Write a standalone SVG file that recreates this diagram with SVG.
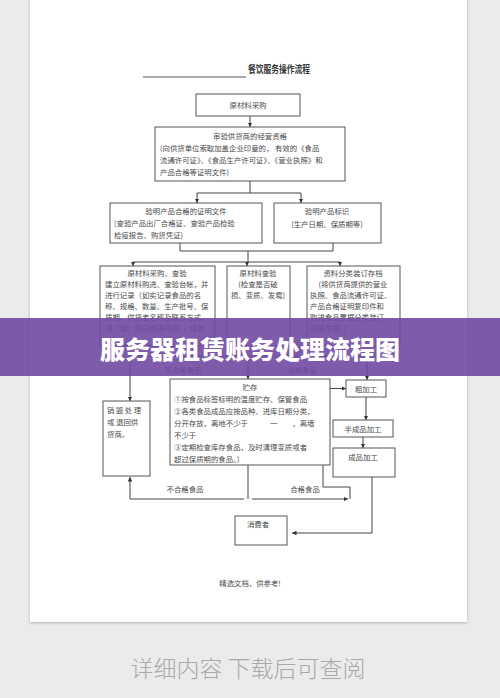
<svg xmlns="http://www.w3.org/2000/svg" width="500" height="698" viewBox="0 0 500 698">
<defs>
<marker id="ah" viewBox="0 0 6 6" refX="6" refY="3" markerWidth="4.5" markerHeight="4.5" orient="auto"><path d="M0,0 L6,3 L0,6 z" fill="#333"/></marker>
<filter id="sh" x="-5%" y="-5%" width="110%" height="110%"><feDropShadow dx="0" dy="1" stdDeviation="1.5" flood-color="#000" flood-opacity="0.25"/></filter>
</defs>
<style>
.box{fill:#fff;stroke:#555;stroke-width:1}
.t{font-family:"Noto Sans CJK SC","Noto Sans",sans-serif;font-size:7.4px;fill:#4a4a4a}
.c{text-anchor:middle}
.ln{fill:none;stroke:#444;stroke-width:1}
.ar{marker-end:url(#ah)}
</style>
<rect x="0" y="0" width="500" height="698" fill="#ebebeb"/>
<rect x="30" y="-4" width="437" height="626" fill="#fff" filter="url(#sh)"/>

<g id="title">
<line x1="143" y1="77" x2="246" y2="77" stroke="#555" stroke-width="1"/>
<text x="248" y="73" font-family="Noto Sans CJK SC,sans-serif" font-size="10" font-weight="bold" fill="#333" textLength="62" lengthAdjust="spacingAndGlyphs">餐饮服务操作流程</text>
</g>

<g id="connectors">
<path class="ln ar" d="M250,116 V127"/>
<path class="ln" d="M250,181 V193 M197,193 H301"/>
<path class="ln ar" d="M197,193 V203"/>
<path class="ln ar" d="M301,193 V203"/>
<path class="ln" d="M180,243 V251 H333 V243 M248,251 V262 M133,262 H340"/>
<path class="ln ar" d="M133,262 V266"/>
<path class="ln ar" d="M247,262 V266"/>
<path class="ln ar" d="M340,262 V266"/>
<path class="ln" d="M259,345 V356 M130,356 H367"/>
<path class="ln ar" d="M130,356 V401"/>
<path class="ln ar" d="M248,356 V379"/>
<path class="ln ar" d="M367,356 V380"/>
<path class="ln ar" d="M366,397 V420"/>
<path class="ln ar" d="M363,437 V448"/>
<path class="ln ar" d="M350,499 V487 H323 V388.5 H346"/>
<path class="ln" d="M248,465 V499"/>
<path class="ln ar" d="M252,499 H348"/>
<path class="ln ar" d="M244,499 H130 V477"/>
<path class="ln ar" d="M372,477 V533 H292"/>
</g>

<g id="n1"><rect class="box" x="196" y="94" width="104" height="22"/><text class="t c" x="248" y="108">原材料采购</text></g>

<g id="n2"><rect class="box" x="155" y="127" width="190" height="54"/>
<text class="t c" x="250" y="139">审验供货商的经营资格</text>
<text class="t" x="160" y="151">(向供货单位索取加盖企业印章的， 有效的《食品</text>
<text class="t" x="160" y="163">流通许可证》、《食品生产许可证》、《营业执照》和</text>
<text class="t" x="160" y="175">产品合格等证明文件)</text></g>

<g id="n3"><rect class="box" x="110" y="203" width="152" height="40"/>
<text class="t c" x="186" y="214">验明产品合格的证明文件</text>
<text class="t" x="114" y="226">(查验产品出厂合格证、查验产品检验</text>
<text class="t" x="114" y="238">检疫报告、购货凭证)</text></g>

<g id="n4"><rect class="box" x="274" y="203" width="107" height="40"/>
<text class="t c" x="327" y="214">验明产品标识</text>
<text class="t c" x="327" y="227">(生产日期、保质期等)</text></g>

<g id="n5"><rect class="box" x="100" y="266" width="115" height="80"/>
<text class="t c" x="157" y="276">原材料采购、查验</text>
<text class="t" x="105" y="287">建立原材料购进、查验台帐，并</text>
<text class="t" x="105" y="298">进行记录（如实记录食品的名</text>
<text class="t" x="105" y="309">称、规格、数量、生产批号、保</text>
<text class="t" x="105" y="320">质期、供货者名称及联系方式、</text>
<text class="t" x="105" y="331">进（销）货日期等内容），保存</text></g>

<g id="n6"><rect class="box" x="227" y="266" width="63" height="80"/>
<text class="t c" x="258" y="276">原材料查验</text>
<text class="t c" x="258" y="287">(检查是否破</text>
<text class="t c" x="258" y="298">损、变质、发霉)</text></g>

<g id="n7"><rect class="box" x="307" y="266" width="93" height="80"/>
<text class="t c" x="353" y="276">资料分类装订存档</text>
<text class="t c" x="353" y="287">(将供货商提供的营业</text>
<text class="t" x="310" y="298">执照、食品流通许可证、</text>
<text class="t" x="310" y="309">产品合格证明复印件和</text>
<text class="t" x="310" y="320">购进食品票据分类装订</text>
<text class="t" x="310" y="331">成册存档。)</text></g>

<g id="labels-top">
<text class="t c" x="183" y="373">不合格食品</text>
<text class="t c" x="302" y="373">合格食品</text>
</g>

<g id="n8"><rect class="box" x="103" y="401" width="47" height="75"/>
<text class="t" x="107" y="413" letter-spacing="1.5">销毁处理</text>
<text class="t" x="107" y="425">或 退回供</text>
<text class="t" x="107" y="437">货商。</text></g>

<g id="n9"><rect class="box" x="170" y="379" width="160" height="86"/>
<text class="t c" x="250" y="390">贮存</text>
<text class="t" x="174" y="402">①按食品标签标明的温度贮存、保管食品</text>
<text class="t" x="174" y="414">②各类食品成品应按品种、进库日期分类，</text>
<text class="t" x="174" y="426">分开存放，离地不少于　　　一　　，离墙</text>
<text class="t" x="174" y="438">不少于</text>
<text class="t" x="174" y="450">③定期检查库存食品，及时清理变质或者</text>
<text class="t" x="174" y="462">超过保质期的食品。）</text></g>

<g id="n10"><rect class="box" x="346" y="380" width="40" height="17"/><text class="t c" x="366" y="391.5">粗加工</text></g>
<g id="n11"><rect class="box" x="333" y="420" width="60" height="17"/><text class="t c" x="363" y="431.5">半成品加工</text></g>
<g id="n12"><rect class="box" x="333" y="448" width="62" height="29"/><text class="t c" x="363" y="460">成品加工</text></g>

<g id="labels-bottom">
<text class="t c" x="185" y="492">不合格食品</text>
<text class="t c" x="305" y="492">合格食品</text>
</g>

<g id="n13"><rect class="box" x="235" y="516" width="52" height="29"/><text class="t c" x="258" y="527">消费者</text></g>

<text class="t c" x="250" y="586" font-size="6.5">精选文档，供参考!</text>

<g id="banner">
<rect x="0" y="318" width="500" height="58" fill="#7149a3" fill-opacity="0.9"/>
<text x="250" y="359" text-anchor="middle" font-family="Noto Sans CJK SC,sans-serif" font-size="25" font-weight="900" fill="#fff">服务器租赁账务处理流程图</text>
</g>

<text x="248" y="677" text-anchor="middle" font-family="Noto Sans CJK SC,sans-serif" font-size="23" font-weight="300" fill="#a9a9a9">详细内容 下载后可查阅</text>
</svg>
